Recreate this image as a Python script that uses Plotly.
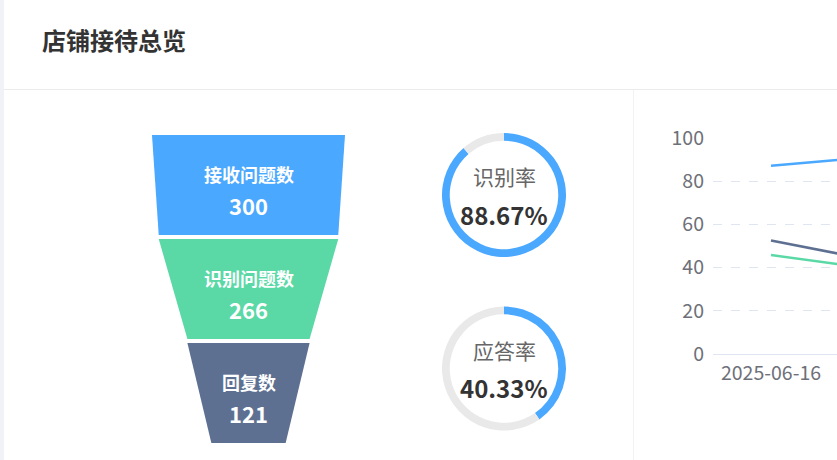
import plotly.graph_objects as go

# ---------------- data ----------------
title_text = "店铺接待总览"
funnel_labels = ["接收问题数", "识别问题数", "回复数"]
funnel_values = [300, 266, 121]
funnel_colors = ["#4BA8FF", "#5AD8A6", "#5D7092"]

rate_labels = ["识别率", "应答率"]
rate_num = [266, 121]
rate_den = 300

line_dates = ["2025-06-16", "2025-06-17"]
line_names = ["识别率", "回复率", "应答率"]
line_values = {
    "识别率": [87.2, 91.8],
    "回复率": [52.5, 42.1],
    "应答率": [45.8, 38.6],
}
line_colors = {"识别率": "#4BA8FF", "回复率": "#5D7092", "应答率": "#5AD8A6"}
y_ticks = [0, 20, 40, 60, 80, 100]

# ---------------- layout helpers ----------------
W, H = 837, 460
FONT = "Noto Sans CJK SC"


def px(x):
    return x / W


def py(y):
    return 1 - y / H


fig = go.Figure()

# ---------------- funnel (trapezoids computed from values) ----------------
min_frac = 0.385  # min size relative to max size
vmax = max(funnel_values)


def width_of(v):
    return min_frac + (1 - min_frac) * v / vmax


piece = 100 / 104  # piece height in index units (rest is the gap)
annotations = []
for i, (lab, val, col) in enumerate(zip(funnel_labels, funnel_values, funnel_colors)):
    top_w = width_of(val)
    bot_w = width_of(funnel_values[i + 1]) if i + 1 < len(funnel_values) else min_frac
    xs = [-top_w / 2, top_w / 2, bot_w / 2, -bot_w / 2, -top_w / 2]
    ys = [i, i, i + piece, i + piece, i]
    fig.add_trace(go.Scatter(
        x=xs, y=ys, mode="lines", fill="toself", fillcolor=col,
        line=dict(width=0, color=col), xaxis="x2", yaxis="y2",
        hoverinfo="skip", showlegend=False,
    ))
    annotations.append(dict(
        x=0, y=i + 0.375, xref="x2", yref="y2", text=f"<b>{lab}</b>",
        xanchor="center", yanchor="middle",
        showarrow=False, font=dict(family=FONT, size=18, color="#FFFFFF"),
    ))
    annotations.append(dict(
        x=0, y=i + 0.67, xref="x2", yref="y2", text=f"<b>{val}</b>",
        xanchor="center", yanchor="middle",
        showarrow=False, font=dict(family=FONT, size=22, color="#FFFFFF"),
    ))

# ---------------- donuts ----------------
donut_centers = [195, 368.5]
R = 62
for lab, num, cy in zip(rate_labels, rate_num, donut_centers):
    r = num / rate_den
    fig.add_trace(go.Pie(
        values=[r, 1 - r], sort=False, direction="clockwise", rotation=0,
        hole=0.875, marker=dict(colors=["#4BA8FF", "#E9E9E9"], line=dict(width=0)),
        textinfo="none", hoverinfo="skip", showlegend=False, automargin=False,
        domain=dict(x=[px(504 - R), px(504 + R)], y=[py(cy + R), py(cy - R)]),
    ))
    annotations.append(dict(
        x=px(504), y=py(cy - 19), xref="paper", yref="paper", text=lab,
        xanchor="center", yanchor="middle",
        showarrow=False, font=dict(family=FONT, size=21, color="#666666"),
    ))
    annotations.append(dict(
        x=px(504), y=py(cy + 19), xref="paper", yref="paper", text=f"<b>{r*100:.2f}%</b>",
        xanchor="center", yanchor="middle",
        showarrow=False, font=dict(family=FONT, size=24, color="#333333"),
    ))

# ---------------- line chart ----------------
for name in line_names:
    fig.add_trace(go.Scatter(
        x=line_dates, y=line_values[name], mode="lines", name=name,
        line=dict(color=line_colors[name], width=2.5),
        xaxis="x", yaxis="y", showlegend=False,
    ))

# title
annotations.append(dict(
    x=px(40), y=py(40), xref="paper", yref="paper", xanchor="left", yanchor="middle",
    text=f"<b>{title_text}</b>",
    showarrow=False, font=dict(family=FONT, size=24, color="#333333"),
))

shapes = [
    # left page strip
    dict(type="rect", xref="paper", yref="paper", x0=0, x1=px(4), y0=0, y1=1,
         fillcolor="#F0F2F7", line=dict(width=0), layer="below"),
    # header separator
    dict(type="line", xref="paper", yref="paper", x0=px(4), x1=1, y0=py(89.5), y1=py(89.5),
         line=dict(color="#EBEBEB", width=1)),
    # vertical divider
    dict(type="line", xref="paper", yref="paper", x0=px(633.5), x1=px(633.5), y0=0, y1=py(90),
         line=dict(color="#F2F2F2", width=1)),
]

fig.update_layout(
    width=W, height=H,
    margin=dict(l=0, r=0, t=0, b=0, pad=0, autoexpand=False),
    paper_bgcolor="#FFFFFF", plot_bgcolor="#FFFFFF",
    font=dict(family=FONT),
    showlegend=False,
    annotations=annotations,
    shapes=shapes,
    xaxis=dict(
        domain=[px(713), 1], type="category", range=[-0.5, 0.569], automargin=False,
        showgrid=False, showline=True, linecolor="#E0E6F1", linewidth=1,
        ticks="", tickfont=dict(family=FONT, size=19.5, color="#6E7079"),
        ticklabelstandoff=2, fixedrange=True,
    ),
    yaxis=dict(
        domain=[py(354), py(138)], range=[0, 100], tickvals=y_ticks, automargin=False,
        showgrid=True, gridcolor="#E0E6F1", griddash="dash", gridwidth=1,
        zeroline=False, showline=False, ticks="",
        tickfont=dict(family=FONT, size=19.5, color="#6E7079"),
        ticklabelstandoff=8, fixedrange=True,
    ),
    xaxis2=dict(
        domain=[px(152), px(345)], range=[-0.5, 0.5], visible=False, fixedrange=True,
        automargin=False,
    ),
    yaxis2=dict(
        domain=[py(447), py(135)], range=[3, 0], visible=False, fixedrange=True,
        automargin=False,
    ),
)

fig.write_html(
    "out.html",
    config=dict(displayModeBar=False),
    post_script=(
        "document.documentElement.style.margin='0';"
        "document.documentElement.style.overflow='hidden';"
        "document.body.style.margin='0';document.body.style.padding='0';"
        "document.body.style.overflow='hidden';"
    ),
)
